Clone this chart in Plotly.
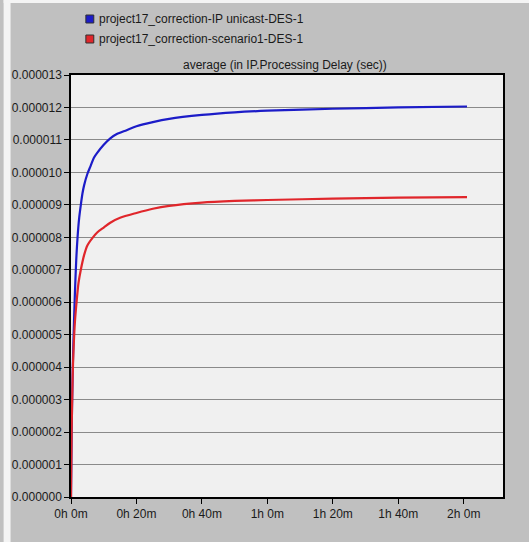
import plotly.graph_objects as go

# time in minutes, values in microseconds (scaled to seconds below)
blue_t = [0, 0.2, 0.5, 0.8, 1.2, 1.6, 2, 2.5, 3, 3.5, 4, 5, 6, 7, 8, 10, 12, 14, 17, 20, 25, 30, 40, 50, 60, 80, 100, 121]
blue_v = [0, 2.0, 3.8, 5.0, 6.3, 7.3, 8.0, 8.6, 9.0, 9.35, 9.6, 9.95, 10.2, 10.45, 10.6, 10.85, 11.05, 11.18, 11.3, 11.42, 11.55, 11.65, 11.77, 11.85, 11.9, 11.96, 12.0, 12.03]
red_t = [0, 0.2, 0.5, 0.8, 1.2, 1.7, 2.3, 3, 4, 5, 6.7, 8, 10, 12, 15, 20, 25, 30, 40, 50, 60, 80, 100, 121]
red_v = [0, 2.0, 3.7, 4.6, 5.4, 6.0, 6.6, 7.0, 7.45, 7.75, 8.0, 8.15, 8.3, 8.45, 8.6, 8.75, 8.88, 8.97, 9.07, 9.12, 9.15, 9.19, 9.22, 9.24]

series_names = ["project17_correction-IP unicast-DES-1", "project17_correction-scenario1-DES-1"]
series_colors = ["#1c1cc8", "#e0262b"]
x_tickvals = [0, 20, 40, 60, 80, 100, 120]
x_ticktext = ["0h 0m", "0h 20m", "0h 40m", "1h 0m", "1h 20m", "1h 40m", "2h 0m"]
y_tickvals = [i * 1e-6 for i in range(14)]
title_text = "average (in IP.Processing Delay (sec))"

W, H = 529, 542
L, R, T, B = 67, 26, 75, 45
pw, ph = W - L - R, H - T - B

def px(x):
    return (x - L) / pw

def py(y):
    return (H - B - y) / ph

fig = go.Figure()
for t, v, name, col in [(blue_t, blue_v, series_names[0], series_colors[0]),
                        (red_t, red_v, series_names[1], series_colors[1])]:
    fig.add_trace(go.Scatter(x=t, y=[val * 1e-6 for val in v], mode="lines",
                             line=dict(color=col, width=2.2, shape="spline", smoothing=0.8),
                             name=name, showlegend=False))

font = dict(family="Liberation Sans, Arial, sans-serif", size=12, color="#1a1a1a")

shapes = [
    # light border strips at top and left
    dict(type="rect", xref="paper", yref="paper", x0=px(-1), x1=px(W + 1), y0=py(3), y1=py(-1),
         fillcolor="#f4f4f4", line=dict(width=0), layer="below"),
    dict(type="rect", xref="paper", yref="paper", x0=px(-1), x1=px(6), y0=py(H + 1), y1=py(-1),
         fillcolor="#f4f4f4", line=dict(width=0), layer="below"),
]
annotations = []
leg_y = [19, 39]
for i in range(2):
    shapes.append(dict(type="rect", xref="paper", yref="paper",
                       x0=px(82), x1=px(90), y0=py(leg_y[i] + 4), y1=py(leg_y[i] - 4),
                       fillcolor=series_colors[i], line=dict(color="#303030", width=1)))
    annotations.append(dict(text=series_names[i], xref="paper", yref="paper",
                            x=px(93), y=py(leg_y[i]), xanchor="left", yanchor="middle",
                            showarrow=False, font=font))
annotations.append(dict(text=title_text, xref="paper", yref="paper", x=px(283), y=py(65),
                        xanchor="center", yanchor="middle", showarrow=False, font=font))

fig.update_layout(
    width=W, height=H,
    margin=dict(l=L, r=R, t=T, b=B, pad=0),
    paper_bgcolor="#c0c0c0",
    plot_bgcolor="#f0f0f0",
    shapes=shapes,
    annotations=annotations,
    font=font,
)
fig.update_xaxes(range=[0, 132], tickvals=x_tickvals, ticktext=x_ticktext,
                 showgrid=False, zeroline=False, showline=True, linecolor="#000000",
                 linewidth=1.5, mirror=True, ticks="outside", ticklen=5, tickcolor="#000000",
                 tickfont=font)
fig.update_yaxes(range=[0, 13e-6], tickvals=y_tickvals, tickformat=".6f",
                 showgrid=True, gridcolor="#8a8a8a", gridwidth=1, zeroline=False,
                 showline=True, linecolor="#000000", linewidth=1.5, mirror=True,
                 ticks="outside", ticklen=5, tickcolor="#000000", tickfont=font)

fig.write_html("out.html", config={"displayModeBar": False},
               post_script="document.body.style.margin='0px';")
